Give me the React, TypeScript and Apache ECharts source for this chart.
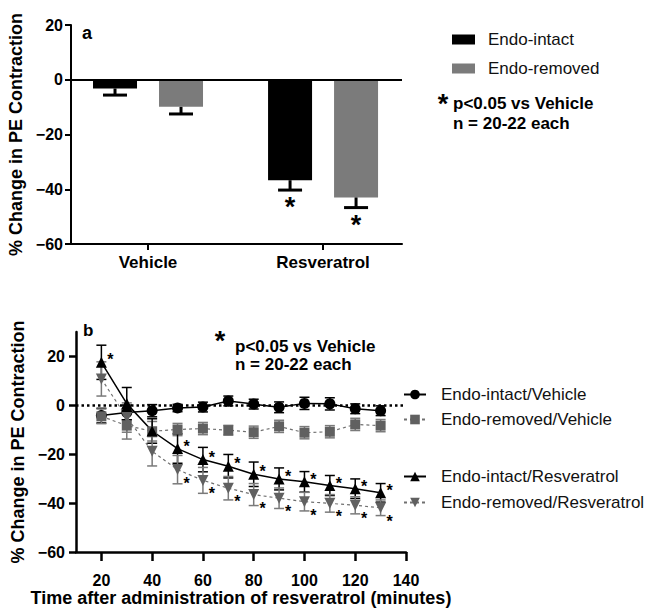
import React, { useEffect, useRef } from 'react';
import * as echarts from 'echarts';

const FONT = '"Liberation Sans", Arial, Helvetica, sans-serif';

// ---------- Panel a data ----------
const barGroups = ['Vehicle', 'Resveratrol'];
const barSeriesNames = ['Endo-intact', 'Endo-removed'];
const intactBars = [-3.2, -36.7];
const intactBarErr = [2.4, 3.6];
const removedBars = [-9.9, -43.0];
const removedBarErr = [2.6, 3.7];
const barSignificant = [false, true];
const barYTicks = [-60, -40, -20, 0, 20];
const barXTicks = [0, 1];

// ---------- Panel b data ----------
const times = [20, 30, 40, 50, 60, 70, 80, 90, 100, 110, 120, 130];
const timeTicks = [20, 40, 60, 80, 100, 120, 140];
const lineYTicks = [-60, -40, -20, 0, 20];
const lineSeriesNames = [
  'Endo-intact/Vehicle',
  'Endo-removed/Vehicle',
  'Endo-intact/Resveratrol',
  'Endo-removed/Resveratrol',
];
const intactVehicle = [-4.2, -2.9, -2.2, -1.1, -0.7, 1.8, 0.5, -0.8, 0.8, 0.6, -1.4, -2.2];
const intactVehicleErr = [3, 3, 2.5, 1.5, 2, 2, 2, 2.2, 2.5, 2.5, 2, 2];
const removedVehicle = [-4.5, -8.3, -10.6, -9.9, -9.5, -10.2, -11.0, -8.6, -11.2, -10.8, -7.8, -8.3];
const removedVehicleErr = [3, 5.5, 4, 2.5, 2.5, 2, 2.5, 2.5, 2.5, 2.5, 2.5, 2.5];
const intactResv = [17.6, 0.7, -10.5, -17.7, -22.2, -24.9, -28.2, -30.1, -31.3, -32.8, -34.1, -35.8];
const intactResvErr = [7, 6.6, 5, 6, 5, 4.8, 5, 4.5, 4.2, 4.1, 4, 3.8];
const removedResv = [10.8, -5, -18.8, -26.3, -30.7, -33.9, -36.5, -38, -39.4, -40.1, -40.9, -41.9];
const removedResvErr = [7, 6, 6, 5.8, 5.3, 4.8, 4.5, 4.2, 3.8, 3.6, 3.5, 3.2];
const intactResvStarTimes = [20, 50, 60, 70, 80, 90, 100, 110, 120, 130];
const removedResvStarTimes = [50, 60, 70, 80, 90, 100, 110, 120, 130];

const BLACK = '#000000';
const GRAY_BAR = '#7b7b7b';
const GRAY_MARK = '#606060';
const GRAY_ERR = '#7a7a7a';

const minus = (v: number) => String(v).replace('-', '\u2212');

function lineErrSeries(name: string, vals: number[], errs: number[], color: string) {
  return {
    name,
    type: 'custom',
    xAxisIndex: 1,
    yAxisIndex: 1,
    z: 2,
    silent: true,
    encode: { x: 0, y: 1 },
    data: times.map((t, i) => [t, vals[i], errs[i]]),
    renderItem: (params: any, api: any) => {
      const x = api.value(0);
      const y = api.value(1);
      const e = api.value(2);
      const top = api.coord([x, y + e]);
      const bot = api.coord([x, y - e]);
      const h = 5;
      const st = { stroke: color, lineWidth: 1.5 };
      return {
        type: 'group',
        children: [
          { type: 'line', shape: { x1: top[0], y1: top[1], x2: bot[0], y2: bot[1] }, style: st },
          { type: 'line', shape: { x1: top[0] - h, y1: top[1], x2: top[0] + h, y2: top[1] }, style: st },
          { type: 'line', shape: { x1: bot[0] - h, y1: bot[1], x2: bot[0] + h, y2: bot[1] }, style: st },
        ],
      };
    },
  };
}

function starSeries(name: string, starTimes: number[], vals: number[], dx: number, dy: number) {
  return {
    name,
    type: 'custom',
    xAxisIndex: 1,
    yAxisIndex: 1,
    z: 5,
    silent: true,
    encode: { x: 0, y: 1 },
    data: starTimes.map((t) => [t, vals[times.indexOf(t)]]),
    renderItem: (params: any, api: any) => {
      const p = api.coord([api.value(0), api.value(1)]);
      return {
        type: 'text',
        x: p[0] + dx,
        y: p[1] + dy,
        style: {
          text: '*',
          fontSize: 16,
          fontWeight: 'bold',
          fontFamily: FONT,
          fill: BLACK,
          align: 'center',
          verticalAlign: 'middle',
        },
      };
    },
  };
}

function barErrSeries(name: string, vals: number[], errs: number[], offsetPx: number) {
  return {
    name,
    type: 'custom',
    xAxisIndex: 0,
    yAxisIndex: 0,
    z: 3,
    silent: true,
    encode: { x: 0, y: 1 },
    data: vals.map((v, i) => [barXTicks[i], v, errs[i], barSignificant[i] ? 1 : 0]),
    renderItem: (params: any, api: any) => {
      const x = api.value(0);
      const y = api.value(1);
      const e = api.value(2);
      const sig = api.value(3);
      const dir = y < 0 ? -1 : 1;
      const b = api.coord([x, y]);
      const end = api.coord([x, y + dir * e]);
      const cx = b[0] + offsetPx;
      const st = { stroke: BLACK, lineWidth: 3 };
      const children: any[] = [
        { type: 'line', shape: { x1: cx, y1: b[1], x2: cx, y2: end[1] }, style: st },
        { type: 'line', shape: { x1: cx - 12, y1: end[1], x2: cx + 12, y2: end[1] }, style: st },
      ];
      if (sig) {
        children.push({
          type: 'text',
          x: cx,
          y: end[1] + 17,
          style: {
            text: '*',
            fontSize: 27,
            fontWeight: 'bold',
            fontFamily: FONT,
            fill: BLACK,
            align: 'center',
            verticalAlign: 'middle',
          },
        });
      }
      return { type: 'group', children };
    },
  };
}

const axisCommon = (width: number) => ({
  axisLine: { show: true, onZero: false, lineStyle: { color: BLACK, width } },
  splitLine: { show: false },
});

export default function App() {
  const ref = useRef<HTMLDivElement>(null);

  useEffect(() => {
    document.body.style.margin = '0';
    if (!ref.current) return;
    const chart = echarts.init(ref.current, undefined, { renderer: 'svg' });

    const tickLabel = { fontSize: 16, fontWeight: 'bold', color: BLACK, fontFamily: FONT };
    const nameStyle = { fontSize: 18, fontWeight: 'bold', color: BLACK, fontFamily: FONT };

    const option: any = {
      animation: false,
      textStyle: { fontFamily: FONT },
      grid: [
        { left: 71, top: 25, width: 331, height: 219, outerBoundsMode: 'none', containLabel: false },
        { left: 76, top: 332, width: 330, height: 220, outerBoundsMode: 'none', containLabel: false },
      ],
      xAxis: [
        {
          gridIndex: 0,
          type: 'value',
          min: -0.44,
          max: 1.451,
          ...axisCommon(2),
          axisTick: { show: true, customValues: barXTicks, length: 6, lineStyle: { color: BLACK, width: 2 } },
          axisLabel: {
            customValues: barXTicks,
            formatter: (v: number) => barGroups[Math.round(v)],
            ...tickLabel,
            fontSize: 17,
            margin: 10,
          },
        },
        {
          gridIndex: 1,
          type: 'value',
          min: 10,
          max: 140,
          ...axisCommon(2.5),
          axisTick: { show: true, customValues: timeTicks, length: 9, lineStyle: { color: BLACK, width: 2.5 } },
          axisLabel: { customValues: timeTicks, ...tickLabel, margin: 20 },
          name: 'Time after administration of resveratrol (minutes)',
          nameLocation: 'middle',
          nameGap: 36,
          nameTextStyle: nameStyle,
        },
      ],
      yAxis: [
        {
          gridIndex: 0,
          type: 'value',
          min: -60,
          max: 20,
          ...axisCommon(2),
          axisTick: { show: true, customValues: barYTicks, length: 6, lineStyle: { color: BLACK, width: 2 } },
          axisLabel: { customValues: barYTicks, formatter: minus, ...tickLabel, margin: 8 },
          name: '% Change in PE Contraction',
          nameLocation: 'middle',
          nameGap: 41,
          nameTextStyle: nameStyle,
        },
        {
          gridIndex: 1,
          type: 'value',
          min: -60,
          max: 30,
          ...axisCommon(2.5),
          axisTick: { show: true, customValues: lineYTicks, length: 7, lineStyle: { color: BLACK, width: 2.5 } },
          axisLabel: { customValues: lineYTicks, formatter: minus, ...tickLabel, margin: 11 },
          name: '% Change in PE Contraction',
          nameLocation: 'middle',
          nameGap: 45,
          nameTextStyle: nameStyle,
        },
      ],
      legend: [
        {
          data: barSeriesNames,
          orient: 'vertical',
          left: 452,
          top: 31,
          padding: 0,
          itemGap: 12,
          itemWidth: 23,
          itemHeight: 10,
          icon: 'rect',
          selectedMode: false,
          textStyle: { fontSize: 17, color: '#111', fontFamily: FONT, padding: [0, 0, 0, 8] },
        },
        {
          data: lineSeriesNames.slice(0, 2),
          orient: 'vertical',
          left: 403,
          top: 386,
          padding: 0,
          itemGap: 8,
          itemWidth: 22,
          itemHeight: 12,
          selectedMode: false,
          textStyle: { fontSize: 17, color: '#111', fontFamily: FONT, padding: [0, 0, 0, 10] },
        },
        {
          data: lineSeriesNames.slice(2, 4),
          orient: 'vertical',
          left: 403,
          top: 468,
          padding: 0,
          itemGap: 9,
          itemWidth: 22,
          itemHeight: 12,
          selectedMode: false,
          textStyle: { fontSize: 17, color: '#111', fontFamily: FONT, padding: [0, 0, 0, 10] },
        },
      ],
      graphic: [
        { type: 'text', x: 82, y: 33, style: { text: 'a', fontSize: 18, fontWeight: 'bold', fontFamily: FONT, fill: BLACK, verticalAlign: 'middle' } },
        { type: 'text', x: 443, y: 104, style: { text: '*', fontSize: 27, fontWeight: 'bold', fontFamily: FONT, fill: BLACK, align: 'center', verticalAlign: 'middle' } },
        { type: 'text', x: 453, y: 103, style: { text: 'p<0.05 vs Vehicle', fontSize: 17, fontWeight: 'bold', fontFamily: FONT, fill: BLACK, verticalAlign: 'middle' } },
        { type: 'text', x: 453, y: 123, style: { text: 'n = 20-22 each', fontSize: 17, fontWeight: 'bold', fontFamily: FONT, fill: BLACK, verticalAlign: 'middle' } },
        { type: 'text', x: 83, y: 330, style: { text: 'b', fontSize: 17, fontWeight: 'bold', fontFamily: FONT, fill: BLACK, verticalAlign: 'middle' } },
        { type: 'text', x: 220, y: 341, style: { text: '*', fontSize: 27, fontWeight: 'bold', fontFamily: FONT, fill: BLACK, align: 'center', verticalAlign: 'middle' } },
        { type: 'text', x: 235, y: 346, style: { text: 'p<0.05 vs Vehicle', fontSize: 17, fontWeight: 'bold', fontFamily: FONT, fill: BLACK, verticalAlign: 'middle' } },
        { type: 'text', x: 235, y: 364, style: { text: 'n = 20-22 each', fontSize: 17, fontWeight: 'bold', fontFamily: FONT, fill: BLACK, verticalAlign: 'middle' } },
      ],
      series: [
        {
          name: barSeriesNames[0],
          type: 'bar',
          xAxisIndex: 0,
          yAxisIndex: 0,
          barWidth: 44,
          barGap: '50%',
          itemStyle: { color: BLACK },
          data: intactBars.map((v, i) => [barXTicks[i], v]),
          markLine: {
            silent: true,
            symbol: 'none',
            label: { show: false },
            lineStyle: { color: BLACK, width: 2, type: 'solid' },
            data: [{ yAxis: 0 }],
          },
        },
        {
          name: barSeriesNames[1],
          type: 'bar',
          xAxisIndex: 0,
          yAxisIndex: 0,
          barWidth: 44,
          barGap: '50%',
          itemStyle: { color: GRAY_BAR },
          data: removedBars.map((v, i) => [barXTicks[i], v]),
        },
        barErrSeries('err-intact', intactBars, intactBarErr, -33),
        barErrSeries('err-removed', removedBars, removedBarErr, 33),

        lineErrSeries('e1', intactVehicle, intactVehicleErr, BLACK),
        lineErrSeries('e2', removedVehicle, removedVehicleErr, GRAY_ERR),
        lineErrSeries('e3', intactResv, intactResvErr, BLACK),
        lineErrSeries('e4', removedResv, removedResvErr, GRAY_ERR),
        {
          name: lineSeriesNames[0],
          type: 'line',
          xAxisIndex: 1,
          yAxisIndex: 1,
          z: 4,
          symbol: 'circle',
          symbolSize: 11,
          itemStyle: { color: BLACK },
          lineStyle: { color: BLACK, width: 1.5 },
          data: times.map((t, i) => [t, intactVehicle[i]]),
          markLine: {
            silent: true,
            symbol: 'none',
            label: { show: false },
            lineStyle: { color: BLACK, width: 2.5, type: [2.5, 3] },
            data: [{ yAxis: 0 }],
          },
        },
        {
          name: lineSeriesNames[1],
          type: 'line',
          xAxisIndex: 1,
          yAxisIndex: 1,
          z: 4,
          symbol: 'rect',
          symbolSize: 10,
          itemStyle: { color: GRAY_MARK },
          lineStyle: { color: '#707070', width: 1.2, type: [3, 3] },
          data: times.map((t, i) => [t, removedVehicle[i]]),
        },
        {
          name: lineSeriesNames[2],
          type: 'line',
          xAxisIndex: 1,
          yAxisIndex: 1,
          z: 4,
          symbol: 'triangle',
          symbolSize: 11,
          itemStyle: { color: BLACK },
          lineStyle: { color: BLACK, width: 1.5 },
          data: times.map((t, i) => [t, intactResv[i]]),
        },
        {
          name: lineSeriesNames[3],
          type: 'line',
          xAxisIndex: 1,
          yAxisIndex: 1,
          z: 4,
          symbol: 'triangle',
          symbolRotate: 180,
          symbolSize: 11,
          itemStyle: { color: GRAY_MARK },
          lineStyle: { color: '#707070', width: 1.2, type: [3, 3] },
          data: times.map((t, i) => [t, removedResv[i]]),
        },
        starSeries('s1', intactResvStarTimes, intactResv, 9, -2.5),
        starSeries('s2', removedResvStarTimes, removedResv, 9, 13.5),
      ],
    };

    chart.setOption(option);
    return () => {
      chart.dispose();
    };
  }, []);

  return <div ref={ref} style={{ width: 650, height: 608 }} />;
}
